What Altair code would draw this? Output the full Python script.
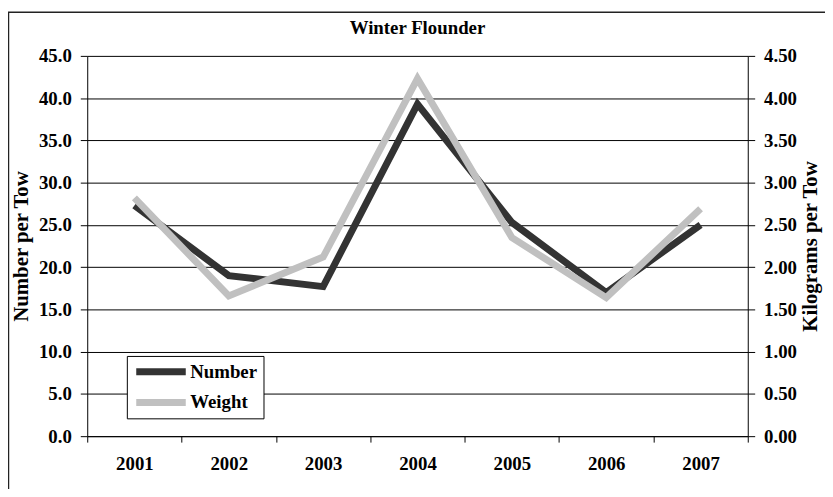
import altair as alt
import pandas as pd

years = ["2001", "2002", "2003", "2004", "2005", "2006", "2007"]
number_per_tow = [27.3, 19.0, 17.7, 39.3, 25.3, 17.0, 25.0]
kg_per_tow = [2.82, 1.66, 2.12, 4.23, 2.35, 1.64, 2.69]
series_names = ["Number", "Weight"]
series_colors = ["#333333", "#c0c0c0"]

df = pd.DataFrame({"year": years, "number": number_per_tow, "weight": kg_per_tow})

FONT = "Liberation Serif"

x_enc = alt.X(
    "year:O",
    sort=years,
    scale=alt.Scale(type="band", paddingInner=0, paddingOuter=0),
    axis=alt.Axis(
        title=None, labelAngle=0, tickBand="extent", tickSize=6, labelPadding=13,
        domainColor="black", tickColor="black", grid=False,
    ),
)

color_scale = alt.Scale(domain=series_names, range=series_colors)
legend = alt.Legend(
    title=None, orient="none", legendX=40, legendY=303, direction="vertical",
    symbolType="stroke", symbolSize=2500, symbolStrokeWidth=7, clipHeight=20,
    rowPadding=11, labelOffset=1, padding=6, strokeColor="black", fillColor="white",
    labelFont=FONT, labelFontSize=19, labelFontWeight="bold", labelColor="black",
)

base = alt.Chart(df)

frame = alt.Chart(pd.DataFrame({"f": [0]})).mark_rect(
    fill=None, stroke="#222222", strokeWidth=1.5
).encode(
    x=alt.value(-79.5), x2=alt.value(900), y=alt.value(-44), y2=alt.value(600)
)

num_line = base.transform_calculate(series="'Number'").mark_line(strokeWidth=7).encode(
    x=x_enc,
    y=alt.Y(
        "number:Q",
        scale=alt.Scale(domain=[0, 45]),
        axis=alt.Axis(
            title="Number per Tow", values=[0, 5, 10, 15, 20, 25, 30, 35, 40, 45],
            format=".1f", grid=True, gridColor="black", gridWidth=1, gridOpacity=1,
            tickSize=7, labelPadding=9, domainColor="black", tickColor="black",
            titleAngle=270, titleX=-66, titleY=192, titleBaseline="middle", titleAlign="center",
        ),
    ),
    color=alt.Color("series:N", scale=color_scale, legend=legend),
)

wt_line = base.transform_calculate(series="'Weight'").mark_line(strokeWidth=7).encode(
    x=x_enc,
    y=alt.Y(
        "weight:Q",
        scale=alt.Scale(domain=[0, 4.5]),
        axis=alt.Axis(
            orient="right", title="Kilograms per Tow",
            values=[0, 0.5, 1, 1.5, 2, 2.5, 3, 3.5, 4, 4.5],
            format=".2f", grid=False, tickSize=7, labelPadding=9,
            domainColor="black", tickColor="black",
            titleAngle=270, titleX=63, titleY=192, titleBaseline="middle", titleAlign="center",
        ),
    ),
    color=alt.Color("series:N", scale=color_scale, legend=legend),
)

chart = (
    alt.layer(frame, num_line, wt_line)
    .resolve_scale(y="independent")
    .properties(
        width=667,
        height=384,
        autosize=alt.AutoSizeParams(type="none"),
        padding={"left": 80, "top": 46, "right": 78, "bottom": 51},
        title=alt.TitleParams(
            "Winter Flounder", font=FONT, fontSize=19, fontWeight="bold",
            color="black", frame="group", offset=0, dy=27, anchor="middle",
        ),
    )
    .configure_view(stroke=None)
    .configure_axis(
        labelFont=FONT, labelFontSize=19, labelFontWeight="bold", labelColor="black",
        titleFont=FONT, titleFontSize=21, titleFontWeight="bold", titleColor="black",
        domainWidth=1, tickWidth=1,
    )
)

chart.save("out.html", embed_options={"renderer": "svg", "actions": False})
